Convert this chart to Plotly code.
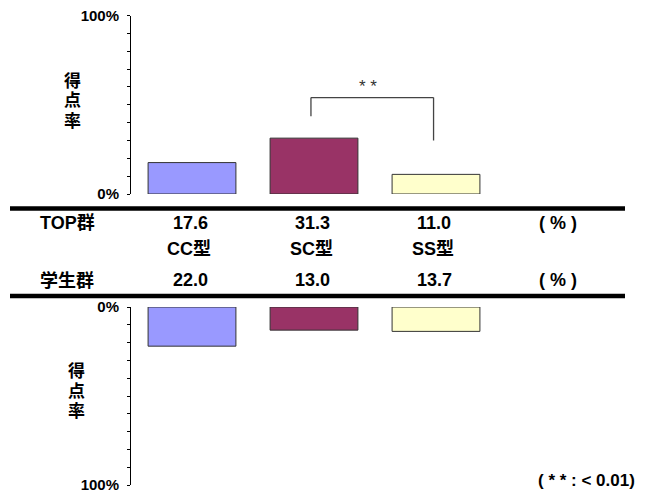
import plotly.graph_objects as go

# Score-rate data by question type for the two groups
types = ["CC型", "SC型", "SS型"]
top_values = [17.6, 31.3, 11.0]
student_values = [22.0, 13.0, 13.7]
bar_colors = ["#9999FF", "#993366", "#FFFFCC"]
tick_vals = list(range(0, 101, 10))
tick_text = ["0%"] + [""] * 9 + ["100%"]
axis_title = "得点率"

FONT = "Liberation Sans, Arial, Noto Sans CJK JP, sans-serif"
W, H = 651, 500
idx = list(range(len(types)))


def py(pix):
    """Convert a pixel row (from the top) to paper y."""
    return 1 - pix / H


def px(pix):
    return pix / W


def label(fig, x, y, text, font, xref="paper", **kw):
    fig.add_annotation(x=x, y=y, xref=xref, yref="paper", text=text,
                       showarrow=False, font=font, xanchor="center",
                       yanchor="middle", **kw)


fig = go.Figure()

# upper panel: TOP group
fig.add_trace(go.Bar(
    x=idx, y=top_values, width=0.72, xaxis="x", yaxis="y",
    marker=dict(color=bar_colors, line=dict(color="#333333", width=1)),
    showlegend=False, hoverinfo="skip",
))
# lower panel: student group, hanging down from 0%
fig.add_trace(go.Bar(
    x=idx, y=student_values, width=0.72, xaxis="x2", yaxis="y2",
    marker=dict(color=bar_colors, line=dict(color="#333333", width=1)),
    showlegend=False, hoverinfo="skip",
))

x_dom = [131 / W, 1]
x_rng = [-0.5, (W - 192) / 122]
hidden_x = dict(domain=x_dom, range=x_rng, visible=False, fixedrange=True,
                automargin=False)

y_common = dict(
    tickvals=tick_vals, ticktext=tick_text, showline=True, linecolor="black",
    linewidth=1, ticks="outside", ticklen=3, tickwidth=1, tickcolor="black",
    showgrid=False, zeroline=False, fixedrange=True, ticklabelstandoff=5,
    automargin=False,
    tickfont=dict(family=FONT, size=15, color="black", weight="bold"),
)
y_inner = dict(
    tickvals=tick_vals, showticklabels=False, showline=False, ticks="inside",
    ticklen=4, tickwidth=1, tickcolor="black", showgrid=False,
    zeroline=False, fixedrange=True, automargin=False,
)

top_dom = [py(194), py(15.5)]
bot_dom = [py(485), py(307)]

fig.update_layout(
    width=W, height=H, margin=dict(l=0, r=0, t=0, b=0, autoexpand=False),
    paper_bgcolor="white", plot_bgcolor="rgba(0,0,0,0)",
    xaxis=dict(anchor="y", **hidden_x),
    xaxis2=dict(anchor="y2", **hidden_x),
    yaxis=dict(domain=top_dom, range=[0, 100], anchor="x", **y_common),
    yaxis2=dict(domain=bot_dom, range=[100, 0], anchor="x2", **y_common),
    yaxis3=dict(domain=top_dom, range=[0, 100], anchor="x", overlaying="y", **y_inner),
    yaxis4=dict(domain=bot_dom, range=[100, 0], anchor="x2", overlaying="y2", **y_inner),
    font=dict(family=FONT, color="black"),
)

# thick separator rules around the table
for yy in (208.5, 296):
    fig.add_shape(type="line", xref="paper", yref="paper",
                  x0=px(10), x1=px(625), y0=py(yy), y1=py(yy),
                  line=dict(color="black", width=4.5))

# significance bracket between SC and SS (TOP group)
br = dict(color="#444444", width=1.3)
fig.add_shape(type="line", xref="x", yref="y", x0=0.975, x1=0.975, y0=43.5, y1=54, line=br)
fig.add_shape(type="line", xref="x", yref="y", x0=0.975, x1=1.98, y0=54, y1=54, line=br)
fig.add_shape(type="line", xref="x", yref="y", x0=1.98, x1=1.98, y0=30, y1=54, line=br)
fig.add_annotation(x=1.44, y=60.5, xref="x", yref="y", text="* *", showarrow=False,
                   xanchor="center", yanchor="middle",
                   font=dict(family=FONT, size=17, color="#333333"))

tbl_font = dict(family=FONT, size=18, color="black", weight="bold")

# table rows
row_top, row_type, row_stu = 223, 249, 280
label(fig, px(67), py(row_top), "TOP群", tbl_font)
label(fig, px(67), py(row_stu), "学生群", tbl_font)
for i, (t, a, b) in enumerate(zip(types, top_values, student_values)):
    label(fig, i, py(row_top), f"{a:.1f}", tbl_font, xref="x", xshift=-2)
    label(fig, i, py(row_type), t, tbl_font, xref="x", xshift=-3)
    label(fig, i, py(row_stu), f"{b:.1f}", tbl_font, xref="x", xshift=-2)
for r in (row_top, row_stu):
    label(fig, 3, py(r), "( % )", tbl_font, xref="x")

# vertical axis titles, one character per line with a tight pitch
title_font = dict(family=FONT, size=17, color="black", weight="bold")
for cx, cy in ((72, 101), (76, 391)):
    for k, ch in enumerate(axis_title):
        label(fig, px(cx), py(cy + (k - 1) * 20), ch, title_font)

# footnote
label(fig, px(586), py(480), "( * * : < 0.01)",
      dict(family=FONT, size=17, color="black", weight="bold"))

fig.write_html("out.html")
